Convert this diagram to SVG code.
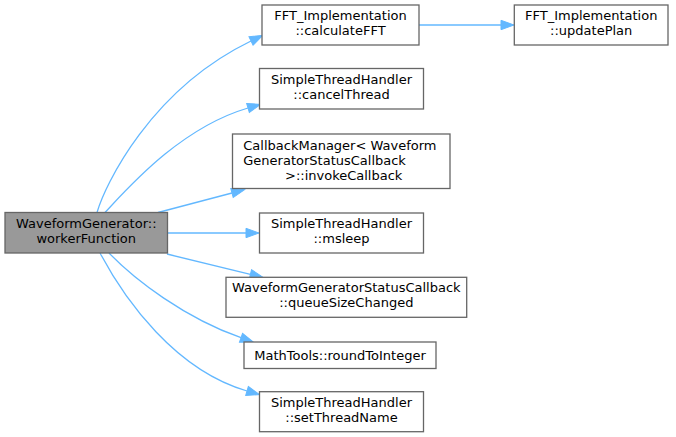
<svg xmlns="http://www.w3.org/2000/svg" width="676" height="437" viewBox="0 0 676 437">
<style>
.n rect{fill:#ffffff;stroke:#666666;stroke-width:1.3}
.n.main rect{fill:#999999}
text{font-family:"DejaVu Sans","Liberation Sans",sans-serif;font-size:13px;fill:#000000}
.c{text-anchor:middle}
.e path{fill:none;stroke:#63b8ff;stroke-width:1.3;marker-end:url(#ah)}
</style>
<defs>
<marker id="ah" markerUnits="userSpaceOnUse" markerWidth="14" markerHeight="10" refX="0" refY="4.7" orient="auto" overflow="visible">
<path d="M0,0 L13,4.7 L0,9.4 Z" fill="#63b8ff" stroke="#63b8ff" stroke-width="1"/>
</marker>
</defs>
<g id="edges" class="e">
<path d="M97,212.5 C105,185 150,90 251,41"/>
<path d="M105,212.5 C128,188 180,128 248,108"/>
<path d="M158,212.5 L232,193"/>
<path d="M167.5,233 L246,233"/>
<path d="M167,254 L250.4,274.3"/>
<path d="M109,253 C135,280 185,318 241,337.7"/>
<path d="M100,253 C125,300 175,370 247,391"/>
<path d="M419,25 L501,25"/>
</g>
<g id="node_main" class="n main">
<rect x="5" y="212.5" width="162.5" height="40.5"/>
<text class="c" x="86.25" y="227.6">WaveformGenerator::</text>
<text class="c" x="86.25" y="242.6">workerFunction</text>
</g>
<g id="node_calculateFFT" class="n">
<rect x="262" y="5" width="157" height="40"/>
<text class="c" x="340.5" y="19.9">FFT_Implementation</text>
<text class="c" x="340.5" y="34.9">::calculateFFT</text>
</g>
<g id="node_updatePlan" class="n">
<rect x="514.3" y="5" width="153.7" height="40"/>
<text class="c" x="591.2" y="19.9">FFT_Implementation</text>
<text class="c" x="591.2" y="34.9">::updatePlan</text>
</g>
<g id="node_cancelThread" class="n">
<rect x="259.5" y="68.5" width="164" height="40.5"/>
<text class="c" x="341.5" y="83.6">SimpleThreadHandler</text>
<text class="c" x="341.5" y="98.6">::cancelThread</text>
</g>
<g id="node_invokeCallback" class="n">
<rect x="232.5" y="134" width="217.5" height="54.5"/>
<text x="243.3" y="149.5">CallbackManager&lt; Waveform</text>
<text x="243.3" y="164.5">GeneratorStatusCallback</text>
<text x="285" y="179.5">&gt;::invokeCallback</text>
</g>
<g id="node_msleep" class="n">
<rect x="259.5" y="213" width="164" height="40"/>
<text class="c" x="341.5" y="227.9">SimpleThreadHandler</text>
<text class="c" x="341.5" y="242.9">::msleep</text>
</g>
<g id="node_queueSizeChanged" class="n">
<rect x="226" y="277.3" width="240.7" height="40"/>
<text class="c" x="346.3" y="292.2">WaveformGeneratorStatusCallback</text>
<text class="c" x="346.3" y="307.2">::queueSizeChanged</text>
</g>
<g id="node_roundToInteger" class="n">
<rect x="244" y="342" width="192" height="26.5"/>
<text class="c" x="340" y="359.5">MathTools::roundToInteger</text>
</g>
<g id="node_setThreadName" class="n">
<rect x="259.5" y="391.7" width="164" height="40"/>
<text class="c" x="341.5" y="406.6">SimpleThreadHandler</text>
<text class="c" x="341.5" y="421.6">::setThreadName</text>
</g>
</svg>
